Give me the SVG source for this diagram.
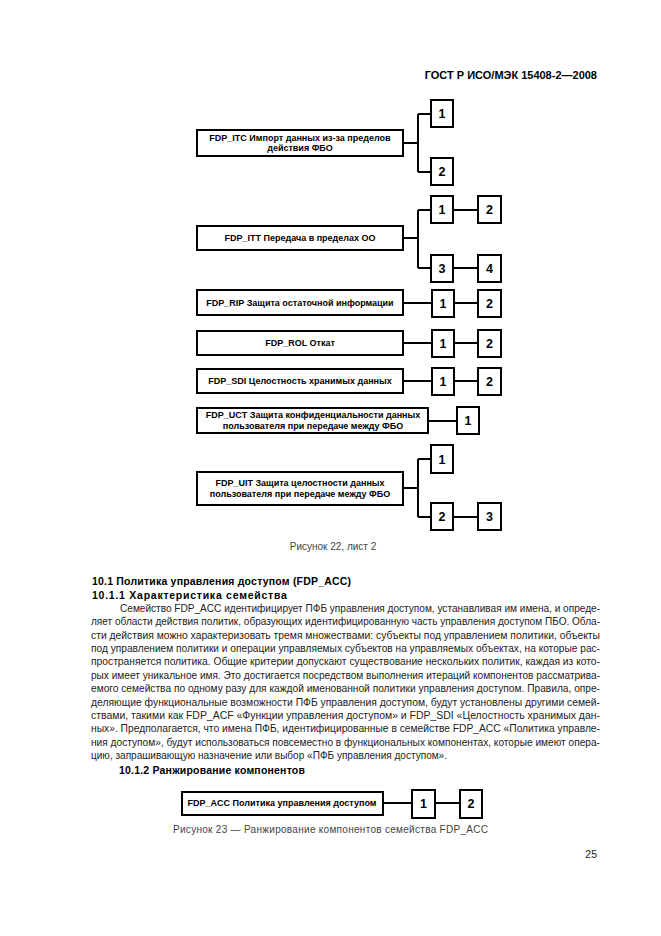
<svg xmlns="http://www.w3.org/2000/svg" width="661" height="936" viewBox="0 0 661 936">
<style>
.bx{fill:#fff;stroke:#000;stroke-width:2}
.ln{fill:none;stroke:#000;stroke-width:2}
.bt{font-family:"Liberation Sans",Arial,sans-serif;font-weight:bold;font-size:9px;fill:#000;text-anchor:middle}
.nt{font-family:"Liberation Sans",Arial,sans-serif;font-weight:bold;font-size:12.5px;fill:#000;text-anchor:middle}
.p{font-family:"Liberation Sans",Arial,sans-serif;font-size:10px;fill:#222}
.h{font-family:"Liberation Sans",Arial,sans-serif;font-size:10.5px;font-weight:bold;fill:#000;letter-spacing:0.2px}
.cap{font-family:"Liberation Sans",Arial,sans-serif;font-size:10px;font-weight:normal;fill:#444}
</style>
<rect width="661" height="936" fill="#fff"/>
<text x="597" y="79" text-anchor="end" style="font-family:'Liberation Sans',Arial,sans-serif;font-weight:bold;font-size:11px">ГОСТ Р ИСО/МЭК 15408-2—2008</text>

<g id="connectors">
<path class="ln" d="M403 143H418M418 114V172M418 114H431M418 172H431"/>
<path class="ln" d="M403 238H418M418 210V268M418 210H431M418 268H431M453 210H478M453 268H478"/>
<path class="ln" d="M403 303H432M454 303H478"/>
<path class="ln" d="M403 343H432M454 343H478"/>
<path class="ln" d="M403 381H432M454 381H478"/>
<path class="ln" d="M428 421H457"/>
<path class="ln" d="M403 488H418M418 459V517M418 459H431M418 517H431M453 517H478"/>
<path class="ln" d="M383 803H412M435 803H460"/>
</g>

<g id="fdp_itc"><rect class="bx" x="197" y="130" width="206" height="26"/><text class="bt" x="300" y="141">FDP_ITC Импорт данных из-за пределов</text><text class="bt" x="300" y="151">действия ФБО</text></g>
<g id="itc_1"><rect class="bx" x="431" y="100" width="22" height="27"/><text class="nt" x="442" y="118">1</text></g>
<g id="itc_2"><rect class="bx" x="431" y="158" width="22" height="27"/><text class="nt" x="442" y="176">2</text></g>

<g id="fdp_itt"><rect class="bx" x="197" y="226" width="206" height="24"/><text class="bt" x="300" y="241">FDP_ITT Передача в пределах ОО</text></g>
<g id="itt_1"><rect class="bx" x="431" y="196" width="22" height="27"/><text class="nt" x="442" y="214">1</text></g>
<g id="itt_2"><rect class="bx" x="478" y="196" width="23" height="27"/><text class="nt" x="489.5" y="214">2</text></g>
<g id="itt_3"><rect class="bx" x="431" y="255" width="22" height="27"/><text class="nt" x="442" y="273">3</text></g>
<g id="itt_4"><rect class="bx" x="478" y="255" width="23" height="27"/><text class="nt" x="489.5" y="273">4</text></g>

<g id="fdp_rip"><rect class="bx" x="197" y="290" width="206" height="25"/><text class="bt" x="300" y="306">FDP_RIP Защита остаточной информации</text></g>
<g id="rip_1"><rect class="bx" x="432" y="290" width="22" height="27"/><text class="nt" x="443" y="308">1</text></g>
<g id="rip_2"><rect class="bx" x="478" y="290" width="23" height="27"/><text class="nt" x="489.5" y="308">2</text></g>

<g id="fdp_rol"><rect class="bx" x="197" y="331" width="206" height="24"/><text class="bt" x="300" y="346">FDP_ROL Откат</text></g>
<g id="rol_1"><rect class="bx" x="432" y="330" width="22" height="27"/><text class="nt" x="443" y="348">1</text></g>
<g id="rol_2"><rect class="bx" x="478" y="330" width="23" height="27"/><text class="nt" x="489.5" y="348">2</text></g>

<g id="fdp_sdi"><rect class="bx" x="197" y="369" width="206" height="24"/><text class="bt" x="300" y="384">FDP_SDI Целостность хранимых данных</text></g>
<g id="sdi_1"><rect class="bx" x="432" y="368" width="22" height="27"/><text class="nt" x="443" y="386">1</text></g>
<g id="sdi_2"><rect class="bx" x="478" y="368" width="23" height="27"/><text class="nt" x="489.5" y="386">2</text></g>

<g id="fdp_uct"><rect class="bx" x="197" y="408" width="231" height="25"/><text class="bt" x="313" y="418">FDP_UCT Защита конфиденциальности данных</text><text class="bt" x="313" y="429">пользователя при передаче между ФБО</text></g>
<g id="uct_1"><rect class="bx" x="457" y="407" width="22" height="27"/><text class="nt" x="468" y="425">1</text></g>

<g id="fdp_uit"><rect class="bx" x="197" y="472" width="206" height="33"/><text class="bt" x="300" y="486">FDP_UIT Защита целостности данных</text><text class="bt" x="300" y="497">пользователя при передаче между ФБО</text></g>
<g id="uit_1"><rect class="bx" x="431" y="445" width="22" height="28"/><text class="nt" x="442" y="464">1</text></g>
<g id="uit_2"><rect class="bx" x="431" y="503" width="22" height="27"/><text class="nt" x="442" y="521">2</text></g>
<g id="uit_3"><rect class="bx" x="478" y="503" width="23" height="27"/><text class="nt" x="489.5" y="521">3</text></g>

<text class="cap" x="333" y="550" text-anchor="middle">Рисунок 22, лист 2</text>

<text class="h" x="92" y="585">10.1 Политика управления доступом (FDP_ACC)</text>
<text class="h" x="92" y="598.5" textLength="195" lengthAdjust="spacing">10.1.1  Характеристика  семейства</text>
<text class="p" x="120" y="612" textLength="480" lengthAdjust="spacingAndGlyphs">Семейство FDP_ACC идентифицирует ПФБ управления доступом, устанавливая им имена, и опреде-</text>
<text class="p" x="91" y="625.4" textLength="509" lengthAdjust="spacingAndGlyphs">ляет области действия политик, образующих идентифицированную часть управления доступом ПБО. Обла-</text>
<text class="p" x="91" y="638.7" textLength="509" lengthAdjust="spacingAndGlyphs">сти действия можно характеризовать тремя множествами: субъекты под управлением политики, объекты</text>
<text class="p" x="91" y="652.1" textLength="509" lengthAdjust="spacingAndGlyphs">под управлением политики и операции управляемых субъектов на управляемых объектах, на которые рас-</text>
<text class="p" x="91" y="665.4" textLength="509" lengthAdjust="spacingAndGlyphs">пространяется политика. Общие критерии допускают существование нескольких политик, каждая из кото-</text>
<text class="p" x="91" y="678.8" textLength="509" lengthAdjust="spacingAndGlyphs">рых имеет уникальное имя. Это достигается посредством выполнения итераций компонентов рассматрива-</text>
<text class="p" x="91" y="692.2" textLength="509" lengthAdjust="spacingAndGlyphs">емого семейства по одному разу для каждой именованной политики управления доступом. Правила, опре-</text>
<text class="p" x="91" y="705.5" textLength="509" lengthAdjust="spacingAndGlyphs">деляющие функциональные возможности ПФБ управления доступом, будут установлены другими семей-</text>
<text class="p" x="91" y="718.9" textLength="509" lengthAdjust="spacingAndGlyphs">ствами, такими как FDP_ACF «Функции управления доступом» и FDP_SDI «Целостность хранимых дан-</text>
<text class="p" x="91" y="732.2" textLength="509" lengthAdjust="spacingAndGlyphs">ных». Предполагается, что имена ПФБ, идентифицированные в семействе FDP_ACC «Политика управле-</text>
<text class="p" x="91" y="745.6" textLength="509" lengthAdjust="spacingAndGlyphs">ния доступом», будут использоваться повсеместно в функциональных компонентах, которые имеют опера-</text>
<text class="p" x="91" y="759" textLength="356" lengthAdjust="spacingAndGlyphs">цию, запрашивающую назначение или выбор «ПФБ управления доступом».</text>
<text class="h" x="119" y="773.5">10.1.2 Ранжирование компонентов</text>

<g id="fdp_acc"><rect class="bx" x="182" y="792" width="201" height="23"/><text class="bt" x="282" y="806">FDP_ACC Политика управления доступом</text></g>
<g id="acc_1"><rect class="bx" x="412" y="790" width="23" height="28"/><text class="nt" x="423.5" y="808">1</text></g>
<g id="acc_2"><rect class="bx" x="460" y="790" width="22" height="28"/><text class="nt" x="471" y="808">2</text></g>

<text class="cap" x="173" y="833" textLength="315" lengthAdjust="spacing">Рисунок 23 — Ранжирование компонентов семейства FDP_ACC</text>
<text class="cap" x="597" y="858" text-anchor="end" style="font-size:10.5px;fill:#222">25</text>
</svg>
